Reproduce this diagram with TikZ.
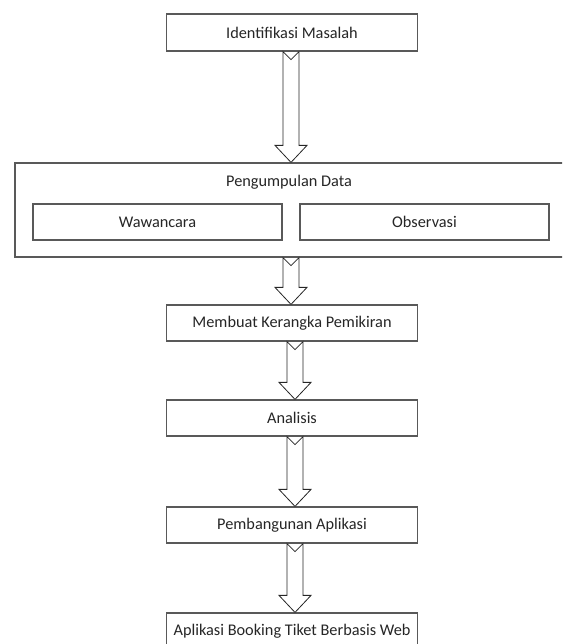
\documentclass[tikz,border=0pt]{standalone}
\usepackage{fontspec}
\setmainfont{Carlito}
\usetikzlibrary{calc,positioning}

\tikzset{
  kotak/.style={draw=black!65,line width=1.2pt,fill=white,text=black!85,minimum width=251pt,minimum height=37pt,inner sep=0pt,font=\fontsize{16.3}{19}\selectfont},
  kotakkecil/.style={kotak,minimum width=249pt,minimum height=36pt},
  panahblok/.style={draw=black!85,line width=0.8pt,fill=white,line join=miter}
}

% panah blok berekor takik: [geser x]{dari}{ke}
\newcommand{\panah}[3][0]{%
  \draw[panahblok] ($(#2.south)+(#1-8,0)$) -- ($(#2.south)+(#1,-8)$) -- ($(#2.south)+(#1+8,0)$)
    -- ($(#3.north)+(#1+8,17)$) -- ($(#3.north)+(#1+16,17)$) -- ($(#3.north)+(#1,0)$)
    -- ($(#3.north)+(#1-16,17)$) -- ($(#3.north)+(#1-8,17)$) -- cycle;}

\begin{document}
\begin{tikzpicture}[x=1pt,y=1pt]

\useasboundingbox (0,0) rectangle (562,644);
\clip (0,0) rectangle (562,644);

% --- Tahap awal ---
\node[kotak] (identifikasi) at (292,611.5) {Identifikasi Masalah};

% --- Pengumpulan data ---
\node[kotak,minimum width=554pt,minimum height=94pt] (kumpul) at (292,434) {};
\node[text=black!85,font=\fontsize{16.3}{19}\selectfont] (judulkumpul) at (289,462) {Pengumpulan Data};
\node[kotakkecil] (wawancara) at (157.5,422) {Wawancara};
\node[kotakkecil] (observasi) at (424.5,422) {Observasi};

% --- Tahap berikutnya ---
\node[kotak,minimum height=36pt] (kerangka) at (292,321) {Membuat Kerangka Pemikiran};
\node[kotak,minimum height=36pt] (analisis) at (292,226) {Analisis};
\node[kotak,minimum height=36pt] (bangun) at (292,119) {Pembangunan Aplikasi};
\node[kotak,minimum height=36pt] (aplikasi) at (292,13) {Aplikasi Booking Tiket Berbasis Web};

% --- Panah ---
\panah[-1]{identifikasi}{kumpul}
\panah[-1]{kumpul}{kerangka}
\panah[3]{kerangka}{analisis}
\panah[3]{analisis}{bangun}
\panah[3]{bangun}{aplikasi}

\end{tikzpicture}
\end{document}
